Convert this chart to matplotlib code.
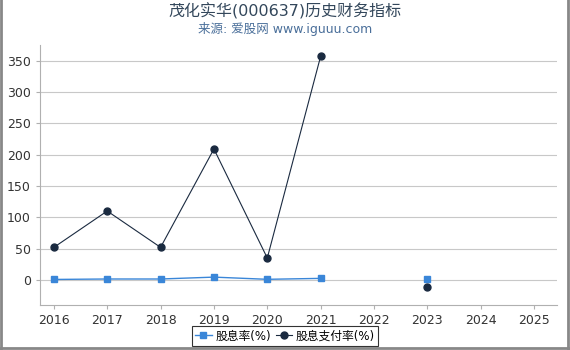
import numpy as np
import matplotlib
matplotlib.use("Agg")
import matplotlib.pyplot as plt
from matplotlib.lines import Line2D

plt.rcParams['font.family'] = ['DejaVu Sans', 'Noto Sans CJK SC']

# data
years = [2016, 2017, 2018, 2019, 2020, 2021, 2022, 2023]
dividend_yield = [0.8, 1.5, 1.5, 4.5, 1.0, 2.5, np.nan, 1.0]
payout_ratio = [52, 110, 52, 209, 35, 357, np.nan, -12]
x_ticks = [2016, 2017, 2018, 2019, 2020, 2021, 2022, 2023, 2024, 2025]
y_ticks = [0, 50, 100, 150, 200, 250, 300, 350]

fig = plt.figure(figsize=(5.7, 3.5), dpi=100)
ax = fig.add_axes([40 / 570, 45 / 350, 517 / 570, 260 / 350])

ax.plot(years, dividend_yield, color='#3a86d8', lw=1, marker='s', ms=5,
        label='股息率(%)')
ax.plot(years, payout_ratio, color='#1a2a40', lw=0.8, marker='o', ms=5,
        label='股息支付率(%)')

ax.set_xlim(2015.74, 2025.43)
ax.set_ylim(-40, 375)
ax.set_xticks(x_ticks)
ax.set_yticks(y_ticks)
ax.grid(axis='y', color='#c8c8c8', lw=0.8)
ax.set_axisbelow(True)
for s in ['top', 'right']:
    ax.spines[s].set_visible(False)
for s in ['left', 'bottom']:
    ax.spines[s].set_color('#b0b0b0')
ax.tick_params(colors='#b0b0b0', labelcolor='#333333', labelsize=9, length=3)

fig.text(0.5, 0.968, '茂化实华(000637)历史财务指标', ha='center', va='center',
         fontsize=11.5, color='#33475b')
fig.text(0.5, 0.918, '来源: 爱股网 www.iguuu.com', ha='center', va='center',
         fontsize=9, color='#4a6f9a')

handles = [
    Line2D([], [], color='#3a86d8', lw=1, marker='s', ms=5),
    Line2D([], [], color='#1a2a40', lw=0.8, marker='o', ms=5),
]
leg = fig.legend(handles, ['股息率(%)', '股息支付率(%)'], loc='center',
                 bbox_to_anchor=(0.5, 0.04), ncol=2, fontsize=8.5,
                 frameon=True, fancybox=False, edgecolor='#000000',
                 handlelength=1.4, handletextpad=0.3, columnspacing=0.4,
                 borderpad=0.3)
leg.get_frame().set_linewidth(0.8)

# thin gray border on left, right and bottom edges of the image
for xs, ys in [([0.002, 0.002], [0, 1]), ([0.996, 0.996], [0, 1]),
               ([0, 1], [0.006, 0.006])]:
    fig.add_artist(Line2D(xs, ys, color='#888888', lw=2,
                          transform=fig.transFigure))

fig.savefig('out.png', dpi=100)
